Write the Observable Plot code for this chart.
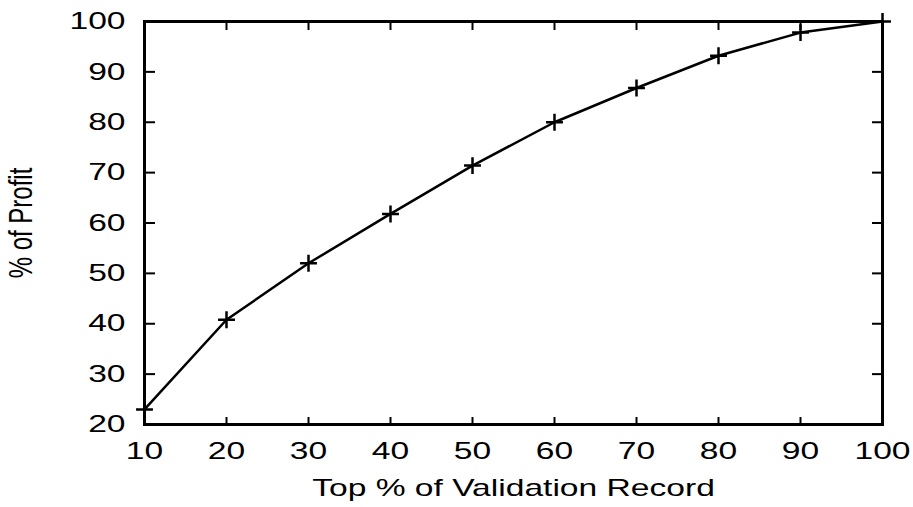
<!DOCTYPE html>
<html><head><meta charset="utf-8">
<script src="https://cdn.jsdelivr.net/npm/d3@7"></script>
<script src="https://cdn.jsdelivr.net/npm/@observablehq/plot@0.6"></script>
<style>body{margin:0;background:#fff}</style>
</head><body><div id="chart"></div>
<script>
const topPct = [10, 20, 30, 40, 50, 60, 70, 80, 90, 100];
const profitPct = [23.0, 40.8, 52.0, 61.8, 71.4, 80.0, 86.8, 93.2, 97.8, 100];
const xTicks = [10, 20, 30, 40, 50, 60, 70, 80, 90, 100];
const yTicks = [20, 30, 40, 50, 60, 70, 80, 90, 100];
const xTitle = "Top % of Validation Record";
const yTitle = "% of Profit";

const data = topPct.map((x, i) => ({x, y: profitPct[i]}));
const blank = () => "";

const plot = Plot.plot({
  width: 913, height: 507,
  marginLeft: 144, marginRight: 31, marginTop: 21, marginBottom: 83,
  style: {fontFamily: "'Liberation Sans', Arial, sans-serif", fontSize: "24px", color: "black", background: "white"},
  x: {domain: [10, 100]},
  y: {domain: [20, 100]},
  marks: [
    // inward ticks on all four sides
    Plot.axisX(xTicks, {anchor: "bottom", tickSize: -7, tickFormat: blank, label: null, strokeWidth: 2}),
    Plot.axisX(xTicks, {anchor: "top", tickSize: -8, tickFormat: blank, label: null, strokeWidth: 2}),
    Plot.axisY(yTicks, {anchor: "left", tickSize: -11, tickFormat: blank, label: null, strokeWidth: 2}),
    Plot.axisY(yTicks, {anchor: "right", tickSize: -11, tickFormat: blank, label: null, strokeWidth: 2}),
    // labels
    Plot.axisX(xTicks, {anchor: "bottom", tickSize: 0, tickPadding: 17, label: xTitle, labelAnchor: "center", labelArrow: "none", labelOffset: 71}),
    Plot.axisY(yTicks, {anchor: "left", tickSize: 0, tickPadding: 19, label: yTitle, labelAnchor: "center", labelArrow: "none", labelOffset: 136}),
    Plot.frame({stroke: "black", strokeWidth: 3}),
    Plot.line(data, {x: "x", y: "y", stroke: "black", strokeWidth: 2.5}),
    Plot.dot(data, {x: "x", y: "y", symbol: "plus", r: 5.5, stroke: "black", strokeWidth: 2.5})
  ]
});
document.getElementById("chart").appendChild(plot);

// the reference picture is stretched horizontally: widen the text to match
plot.querySelectorAll("text").forEach(t => {
  const tr = t.getAttribute("transform");
  if (tr && /translate\([^)]*\)/.test(tr)) {
    t.setAttribute("transform", tr.replace(/(translate\([^)]*\))/, "$1 scale(1.4,1)"));
  } else {
    const x = +(t.getAttribute("x") || 0), y = +(t.getAttribute("y") || 0);
    t.setAttribute("transform", `translate(${x},${y}) scale(1.4,1) translate(${-x},${-y})`);
  }
});
</script>
</body></html>
